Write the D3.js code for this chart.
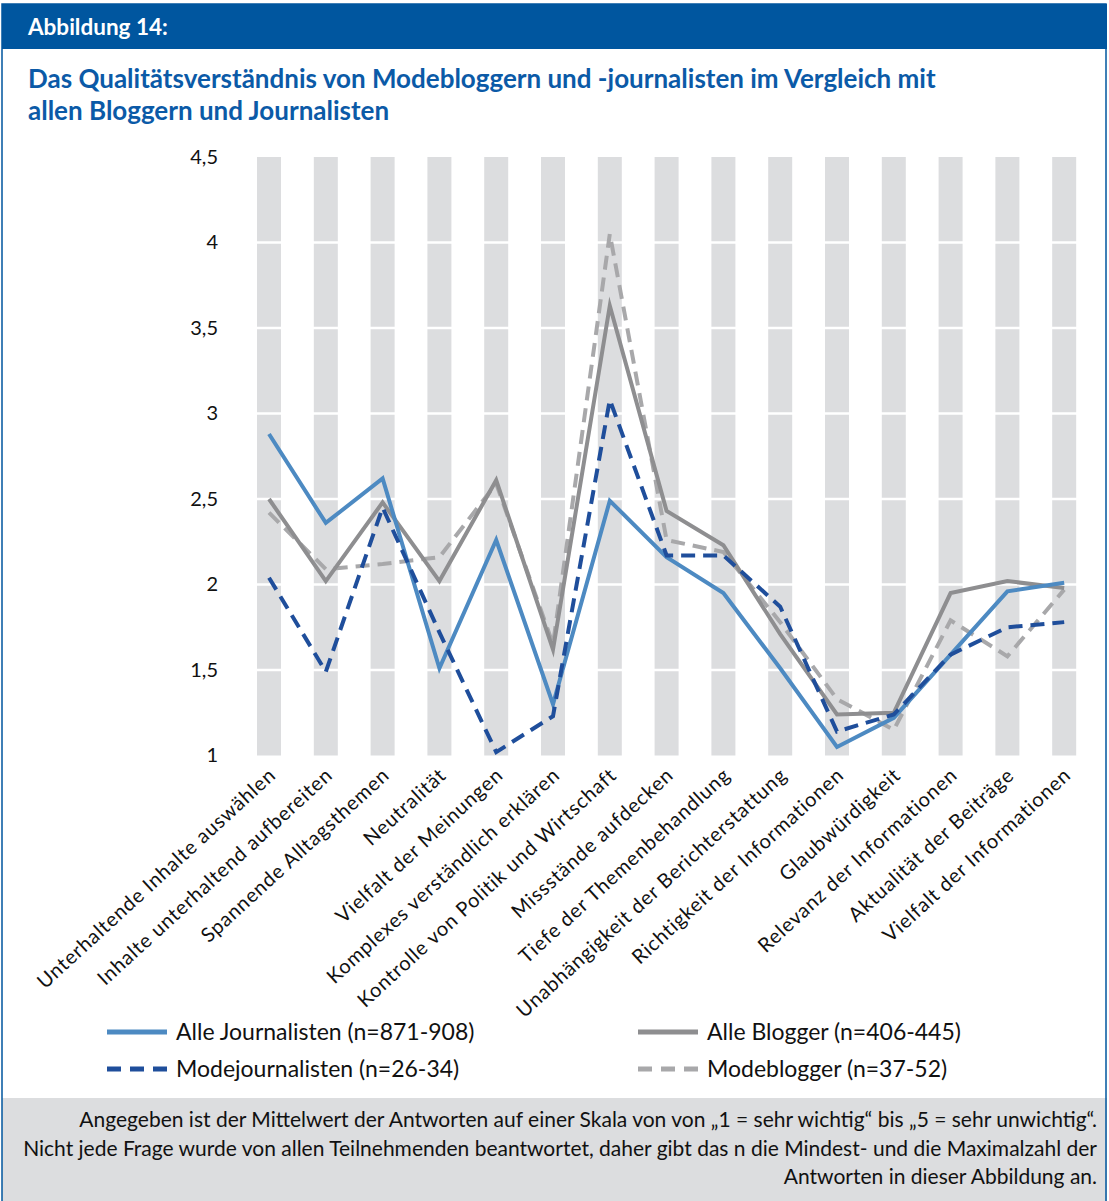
<!DOCTYPE html>
<html>
<head>
<meta charset="utf-8">
<script src="https://d3js.org/d3.v7.min.js"></script>
<style>
  body { margin: 0; background: #fff; }
  svg { display: block; }
  text { font-family: Lato, "Open Sans", sans-serif; }
</style>
</head>
<body>
<svg id="chart" width="1109" height="1201"></svg>
<script>
// categories (x axis)
const categories = [
  "Unterhaltende Inhalte auswählen",
  "Inhalte unterhaltend aufbereiten",
  "Spannende Alltagsthemen",
  "Neutralität",
  "Vielfalt der Meinungen",
  "Komplexes verständlich erklären",
  "Kontrolle von Politik und Wirtschaft",
  "Missstände aufdecken",
  "Tiefe der Themenbehandlung",
  "Unabhängigkeit der Berichterstattung",
  "Richtigkeit der Informationen",
  "Glaubwürdigkeit",
  "Relevanz der Informationen",
  "Aktualität der Beiträge",
  "Vielfalt der Informationen"
];

// mean values
const alleJournalisten = [2.88, 2.36, 2.62, 1.51, 2.26, 1.30, 2.49, 2.16, 1.95, 1.51, 1.05, 1.22, 1.59, 1.96, 2.01];
const alleBlogger      = [2.50, 2.02, 2.48, 2.02, 2.61, 1.62, 3.63, 2.43, 2.23, 1.71, 1.24, 1.25, 1.95, 2.02, 1.98];
const modejournalisten = [2.04, 1.49, 2.45, 1.72, 1.02, 1.23, 3.08, 2.17, 2.17, 1.87, 1.14, 1.24, 1.59, 1.75, 1.78];
const modeblogger      = [2.42, 2.09, 2.12, 2.16, 2.59, 1.65, 4.05, 2.26, 2.19, 1.78, 1.33, 1.15, 1.79, 1.58, 1.97];

const yTicks = [1, 1.5, 2, 2.5, 3, 3.5, 4, 4.5];
const yMax = 4.5;

const series = [
  { name: "Alle Journalisten (n=871-908)", values: alleJournalisten, color: "#4d8ac2", dash: null },
  { name: "Alle Blogger (n=406-445)",      values: alleBlogger,      color: "#8e8e90", dash: null },
  { name: "Modejournalisten (n=26-34)",    values: modejournalisten, color: "#1f4e9b", dash: "14,8" },
  { name: "Modeblogger (n=37-52)",         values: modeblogger,      color: "#a8a8aa", dash: "14,8" }
];
// drawing order (back to front)
const drawOrder = [3, 1, 0, 2];

const svg = d3.select("#chart");
const blue = "#00569f";

// header bar
svg.append("rect").attr("x", 2).attr("y", 4).attr("width", 1105).attr("height", 45).attr("fill", blue);
svg.append("text").attr("x", 28).attr("y", 35)
  .attr("fill", "#fff").attr("font-weight", 700).attr("font-size", 22.5)
  .text("Abbildung 14:");

// title
const title = svg.append("text").attr("fill", "#0b5aa7").attr("font-weight", 700).attr("font-size", 26);
title.append("tspan").attr("x", 28).attr("y", 88)
  .text("Das Qualitätsverständnis von Modebloggern und -journalisten im Vergleich mit");
title.append("tspan").attr("x", 28).attr("y", 120)
  .text("allen Bloggern und Journalisten");

// scales
const x = d3.scaleBand().domain(categories).range([240.6, 1092.6])
  .paddingInner(0.5775).paddingOuter(0.289);
const y = d3.scaleLinear().domain([1, yMax]).range([755.5, 157]);
const cx = d => x(d) + x.bandwidth() / 2;

// gray background columns
svg.append("g").selectAll("rect").data(categories).join("rect")
  .attr("x", d => x(d)).attr("width", x.bandwidth())
  .attr("y", y(yMax)).attr("height", y(1) - y(yMax))
  .attr("fill", "#dcdddf");

// white gridlines over the columns
svg.append("g").selectAll("line").data(yTicks.filter(t => t > 1 && t < yMax)).join("line")
  .attr("x1", 240).attr("x2", 1093)
  .attr("y1", d => y(d)).attr("y2", d => y(d))
  .attr("stroke", "#fff").attr("stroke-width", 2.5);

// y axis
const yAxis = svg.append("g").attr("transform", "translate(240,0)")
  .call(d3.axisLeft(y).tickValues(yTicks).tickSize(0).tickPadding(22)
    .tickFormat(d => String(d).replace(".", ",")));
yAxis.select(".domain").remove();
yAxis.selectAll("text").attr("font-family", "Lato, sans-serif").attr("font-size", 20).attr("fill", "#111");

// rotated category labels
svg.append("g").selectAll("text").data(categories).join("text")
  .attr("transform", d => `translate(${cx(d) + 8},${777}) rotate(-42.5)`)
  .attr("text-anchor", "end")
  .attr("font-family", "'Open Sans', sans-serif")
  .attr("font-size", 20)
  .attr("letter-spacing", 0.8)
  .attr("fill", "#111")
  .text(d => d);

// lines
const line = d3.line().x((v, i) => cx(categories[i])).y(v => y(v));
svg.append("g").selectAll("path").data(drawOrder.map(i => series[i])).join("path")
  .attr("d", s => line(s.values))
  .attr("fill", "none")
  .attr("stroke", s => s.color)
  .attr("stroke-width", 4)
  .attr("stroke-linejoin", "miter")
  .attr("stroke-miterlimit", 10)
  .attr("stroke-dasharray", s => s.dash);

// legend
const legendPos = [
  { x: 107, y: 1032 }, // Alle Journalisten
  { x: 638, y: 1032 }, // Alle Blogger
  { x: 107, y: 1069 }, // Modejournalisten
  { x: 638, y: 1069 }  // Modeblogger
];
const legend = svg.append("g").selectAll("g").data(series).join("g")
  .attr("transform", (s, i) => `translate(${legendPos[i].x},${legendPos[i].y})`);
legend.append("line").attr("x1", 0).attr("x2", 60).attr("y1", 0).attr("y2", 0)
  .attr("stroke", s => s.color).attr("stroke-width", 5)
  .attr("stroke-dasharray", s => s.dash ? "14,9" : null);
legend.append("text").attr("x", 69).attr("y", 8)
  .attr("font-size", 23).attr("fill", "#111")
  .text(s => s.name);

// footer note
svg.append("rect").attr("x", 2).attr("y", 1098).attr("width", 1105).attr("height", 103).attr("fill", "#dcdddf");
const notes = [
  "Angegeben ist der Mittelwert der Antworten auf einer Skala von von „1 = sehr wichtig“ bis „5 = sehr unwichtig“.",
  "Nicht jede Frage wurde von allen Teilnehmenden beantwortet, daher gibt das n die Mindest- und die Maximalzahl der",
  "Antworten in dieser Abbildung an."
];
svg.append("g").selectAll("text").data(notes).join("text")
  .attr("x", 1097).attr("y", (d, i) => 1127 + i * 28.5)
  .attr("text-anchor", "end").attr("font-size", 21).attr("fill", "#111")
  .text(d => d);

// frame
svg.append("rect").attr("x", 2).attr("y", 4).attr("width", 1104).attr("height", 1200)
  .attr("fill", "none").attr("stroke", blue).attr("stroke-width", 1.5);
</script>
</body>
</html>
